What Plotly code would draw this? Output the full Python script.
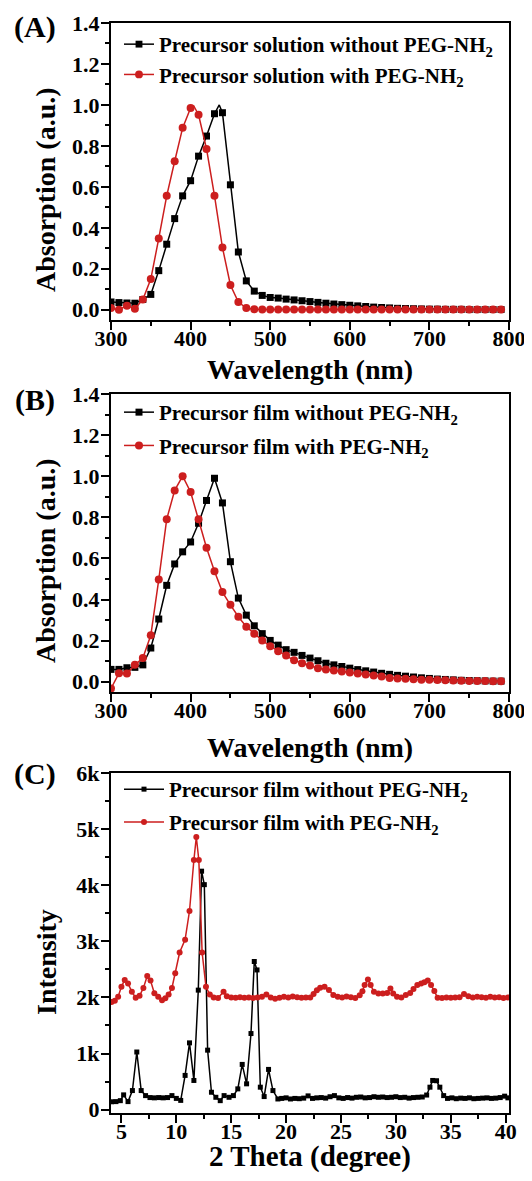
import plotly.graph_objects as go

# ---------------- Panel A: precursor solutions (UV-vis) ----------------
wl_a_black = [300, 310, 320, 330, 340, 350, 360, 370, 380, 390, 400, 410, 420, 430, 436, 440,
              450, 460, 470, 480, 490, 500, 510, 520, 530, 540, 550, 560, 570, 580, 590, 600,
              610, 620, 630, 640, 650, 660, 670, 680, 690, 700, 710, 720, 730, 740, 750, 760,
              770, 780, 790]
abs_a_black = [0.038, 0.035, 0.033, 0.032, 0.05, 0.075, 0.191, 0.32, 0.445, 0.556, 0.63, 0.75,
               0.848, 0.957, 1.0, 0.962, 0.61, 0.282, 0.141, 0.091, 0.07, 0.06, 0.057, 0.052,
               0.048, 0.044, 0.04, 0.036, 0.032, 0.028, 0.025, 0.022, 0.019, 0.016, 0.013, 0.011,
               0.009, 0.007, 0.006, 0.005, 0.004, 0.003, 0.003, 0.002, 0.002, 0.002, 0.001,
               0.001, 0.001, 0.001, 0.001]
wl_a_red = [300, 310, 320, 330, 340, 350, 360, 370, 380, 390, 400, 404, 410, 420, 430, 440,
            450, 460, 470, 480, 490, 500, 510, 520, 530, 540, 550, 560, 570, 580, 590, 600,
            610, 620, 630, 640, 650, 660, 670, 680, 690, 700, 710, 720, 730, 740, 750, 760,
            770, 780, 790]
abs_a_red = [0.008, 0.0, 0.02, 0.005, 0.05, 0.15, 0.348, 0.556, 0.725, 0.888, 0.985, 0.995,
             0.952, 0.785, 0.557, 0.304, 0.121, 0.038, 0.008, 0.002, 0.001, 0.001, 0.001,
             0.001, 0.001, 0.001, 0.001, 0.001, 0.001, 0.001, 0.001, 0.001, 0.001, 0.001,
             0.001, 0.001, 0.001, 0.001, 0.001, 0.001, 0.001, 0.001, 0.001, 0.001, 0.001,
             0.001, 0.001, 0.001, 0.001, 0.001, 0.001]

# ---------------- Panel B: precursor films (UV-vis) ----------------
wl_b = [300, 310, 320, 330, 340, 350, 360, 370, 380, 390, 400, 410, 420, 430, 440, 450, 460,
        470, 480, 490, 500, 510, 520, 530, 540, 550, 560, 570, 580, 590, 600, 610, 620, 630,
        640, 650, 660, 670, 680, 690, 700, 710, 720, 730, 740, 750, 760, 770, 780, 790]
abs_b_black = [0.06, 0.06, 0.068, 0.07, 0.082, 0.164, 0.305, 0.469, 0.573, 0.632, 0.68, 0.771,
               0.882, 0.99, 0.87, 0.584, 0.407, 0.324, 0.272, 0.234, 0.201, 0.178, 0.156,
               0.143, 0.128, 0.115, 0.102, 0.09, 0.082, 0.074, 0.066, 0.059, 0.053, 0.047,
               0.041, 0.036, 0.031, 0.027, 0.023, 0.019, 0.016, 0.013, 0.011, 0.009, 0.007,
               0.006, 0.005, 0.004, 0.003, 0.003]
abs_b_red = [-0.033, 0.041, 0.04, 0.082, 0.115, 0.226, 0.497, 0.791, 0.931, 1.0, 0.923, 0.791,
             0.652, 0.538, 0.436, 0.374, 0.316, 0.268, 0.234, 0.201, 0.173, 0.148, 0.127,
             0.104, 0.09, 0.079, 0.066, 0.06, 0.055, 0.05, 0.045, 0.04, 0.035, 0.03, 0.025,
             0.018, 0.016, 0.015, 0.012, 0.01, 0.01, 0.008, 0.007, 0.006, 0.005, 0.004, 0.003,
             0.003, 0.002, 0.002]

# ---------------- Panel C: XRD of precursor films ----------------
tt_black = [4.1, 4.5, 4.9, 5.2, 5.6, 6.0, 6.4, 6.8, 7.2, 7.6, 8.0, 8.4, 8.8, 9.2, 9.6, 10.0,
            10.4, 10.8, 11.2, 11.6, 12.0, 12.3, 12.55, 12.85, 13.2, 13.6, 14.0, 14.35, 14.8,
            15.2, 15.6, 16.0, 16.4, 16.8, 17.1, 17.35, 17.65, 18.0, 18.4, 18.8, 19.25, 19.6,
            20.0, 20.4, 20.8, 21.2, 21.6, 22.0, 22.4, 22.8, 23.2, 23.6, 24.0, 24.4, 24.8,
            25.2, 25.6, 26.0, 26.4, 26.8, 27.2, 27.6, 28.0, 28.4, 28.8, 29.2, 29.6, 30.0,
            30.4, 30.8, 31.2, 31.6, 32.0, 32.4, 32.8, 33.1, 33.35, 33.7, 34.0, 34.35, 34.7,
            35.1, 35.5, 35.9, 36.3, 36.7, 37.1, 37.5, 37.9, 38.3, 38.7, 39.1, 39.5, 39.9, 40.2]
int_black = [140, 143, 160, 263, 143, 340, 1027, 340, 250, 215, 210, 215, 210, 215, 250, 200,
             165, 610, 1190, 520, 2130, 4250, 4010, 1060, 310, 220, 160, 250, 220, 250, 370,
             806, 460, 1356, 2640, 2490, 400, 233, 717, 340, 190, 200, 210, 190, 200, 195, 205,
             245, 200, 210, 215, 205, 230, 250, 210, 200, 215, 205, 220, 225, 210, 215, 230,
             220, 225, 215, 220, 230, 215, 220, 205, 215, 220, 225, 260, 400, 520, 515, 400,
             250, 200, 210, 195, 205, 200, 210, 195, 200, 205, 210, 200, 205, 215, 240, 210]
tt_red = [4.1, 4.4, 4.7, 5.0, 5.3, 5.6, 5.95, 6.3, 6.65, 7.0, 7.35, 7.65, 8.0, 8.35, 8.7, 9.0,
          9.3, 9.6, 9.9, 10.3, 10.8, 11.2, 11.6, 11.82, 12.05, 12.35, 12.7, 13.05, 13.4, 13.8,
          14.3, 14.6, 15.0, 15.4, 15.8, 16.2, 16.6, 17.0, 17.4, 17.8, 18.2, 18.6, 19.0, 19.4,
          19.8, 20.2, 20.6, 21.0, 21.4, 21.8, 22.2, 22.5, 22.8, 23.1, 23.5, 23.9, 24.3, 24.7,
          25.1, 25.5, 25.9, 26.3, 26.7, 26.95, 27.15, 27.45, 27.7, 28.0, 28.4, 28.8, 29.2,
          29.5, 29.75, 30.1, 30.5, 30.9, 31.3, 31.6, 31.95, 32.3, 32.6, 32.9, 33.2, 33.5, 33.8,
          34.2, 34.6, 35.0, 35.4, 35.8, 36.2, 36.6, 37.0, 37.4, 37.8, 38.2, 38.6, 39.0, 39.4,
          39.8, 40.2]
int_red = [1920, 1940, 2013, 2192, 2310, 2250, 2100, 1995, 2030, 2170, 2380, 2300, 2073, 2013,
           1950, 1985, 2050, 2170, 2430, 2800, 3030, 3540, 4450, 4860, 4450, 2800, 2190, 2050,
           2000, 1990, 2100, 2020, 2000, 1995, 2005, 1995, 2000, 1990, 2000, 2010, 2050, 2000,
           1975, 1995, 2010, 2000, 2015, 2005, 1995, 2000, 2000, 2060, 2130, 2173, 2191, 2131,
           2042, 2010, 2000, 2015, 2005, 1990, 2040, 2110, 2220, 2320, 2220, 2100, 2072, 2070,
           2080, 2160, 2072, 2013, 2000, 2043, 2080, 2150, 2222, 2250, 2270, 2300, 2222, 2114,
           1995, 1990, 2000, 1995, 2000, 2005, 2060, 2020, 2000, 2010, 2005, 1995, 2010, 2000,
           2005, 1990, 2000]

names_a = ["Precursor solution without PEG-NH<sub>2</sub>",
           "Precursor solution with PEG-NH<sub>2</sub>"]
names_bc = ["Precursor film without PEG-NH<sub>2</sub>",
            "Precursor film with PEG-NH<sub>2</sub>"]

BLACK = "#000000"
RED = "#CC1E1E"
FONT = "Liberation Serif"
PAGE_MARGIN = 8          # default body margin of the html page
W, H = 532 - PAGE_MARGIN, 1181 - 2 * PAGE_MARGIN
PLOT_LEFT, PLOT_RIGHT = 111, 509


def fx(px):
    return (px - PAGE_MARGIN) / W


def fy(py):
    return 1 - (py - PAGE_MARGIN) / H


def msize(xs, s):
    return [s if float(x) % 10 == 0 else 0 for x in xs]


def mk(symbol, size, color):
    return dict(symbol=symbol, size=size, color=color, opacity=1, line=dict(width=0))


fig = go.Figure()

# Panel A
fig.add_trace(go.Scatter(x=wl_a_black, y=abs_a_black, mode="lines+markers", name=names_a[0],
                         line=dict(color=BLACK, width=1.5),
                         marker=mk("square", msize(wl_a_black, 7), BLACK),
                         xaxis="x", yaxis="y", legend="legend", legendgroup="a1"))
fig.add_trace(go.Scatter(x=wl_a_red, y=abs_a_red, mode="lines+markers", name=names_a[1],
                         line=dict(color=RED, width=1.5),
                         marker=mk("circle", msize(wl_a_red, 8), RED),
                         xaxis="x", yaxis="y", legend="legend", legendgroup="a2"))
# Panel B
fig.add_trace(go.Scatter(x=wl_b, y=abs_b_black, mode="lines+markers", name=names_bc[0],
                         line=dict(color=BLACK, width=1.5),
                         marker=mk("square", 7, BLACK),
                         xaxis="x2", yaxis="y2", legend="legend2", legendgroup="b1"))
fig.add_trace(go.Scatter(x=wl_b, y=abs_b_red, mode="lines+markers", name=names_bc[1],
                         line=dict(color=RED, width=1.5),
                         marker=mk("circle", 8, RED),
                         xaxis="x2", yaxis="y2", legend="legend2", legendgroup="b2"))
# Panel C
fig.add_trace(go.Scatter(x=tt_black, y=int_black, mode="lines+markers", name=names_bc[0],
                         line=dict(color=BLACK, width=1.5),
                         marker=mk("square", 5, BLACK),
                         xaxis="x3", yaxis="y3", legend="legend3", legendgroup="c1"))
fig.add_trace(go.Scatter(x=tt_red, y=int_red, mode="lines+markers", name=names_bc[1],
                         line=dict(color=RED, width=1.5),
                         marker=mk("circle", 6, RED),
                         xaxis="x3", yaxis="y3", legend="legend3", legendgroup="c2"))

tickfont = dict(family=FONT, size=22, color="black", weight="bold")


def xax(domain_anchor, rng, dtick, minor_dtick, tick0=None):
    d = dict(domain=[fx(PLOT_LEFT), fx(PLOT_RIGHT)], anchor=domain_anchor, range=rng, dtick=dtick,
             ticks="outside", ticklen=8, tickwidth=2, tickcolor="black",
             minor=dict(ticks="outside", ticklen=4, tickwidth=2, tickcolor="black", dtick=minor_dtick),
             showline=True, linewidth=2, linecolor="black", mirror=True,
             showgrid=False, zeroline=False, tickfont=tickfont, automargin=False,
             ticklabelstandoff=-10)
    if tick0 is not None:
        d["tick0"] = tick0
        d["minor"]["tick0"] = tick0
    return d


def yax(domain, anchor, rng, dtick, minor_dtick, fmt):
    return dict(domain=domain, anchor=anchor, range=rng, dtick=dtick, tick0=0, tickformat=fmt,
                ticks="outside", ticklen=8, tickwidth=2, tickcolor="black",
                minor=dict(ticks="outside", ticklen=4, tickwidth=2, tickcolor="black",
                           dtick=minor_dtick, tick0=0),
                showline=True, linewidth=2, linecolor="black", mirror=True,
                showgrid=False, zeroline=False, tickfont=tickfont, automargin=False,
                ticklabelstandoff=-3)


legfont = dict(family=FONT, size=21, color="black", weight="bold")


def leg(y_top, gap, iw=30):
    return dict(x=fx(119), y=fy(y_top), xanchor="left", yanchor="top", font=legfont,
                bgcolor="rgba(0,0,0,0)", borderwidth=0, tracegroupgap=gap,
                traceorder="grouped", itemwidth=iw)


fig.update_layout(
    width=W, height=H, autosize=False,
    margin=dict(l=0, r=0, t=0, b=0, autoexpand=False),
    paper_bgcolor="white", plot_bgcolor="white",
    font=dict(family=FONT, color="black"),
    xaxis=xax("y", [300, 800], 100, 50),
    yaxis=yax([fy(320), fy(23)], "x", [-0.05, 1.4], 0.2, 0.1, ".1f"),
    xaxis2=xax("y2", [300, 800], 100, 50),
    yaxis2=yax([fy(692), fy(394)], "x2", [-0.05, 1.4], 0.2, 0.1, ".1f"),
    xaxis3=xax("y3", [4.05, 40.3], 5, 2.5, tick0=5),
    yaxis3=yax([fy(1113), fy(773)], "x3", [-60, 6000], 1000, 500, "~s"),
    legend=leg(24, 0),
    legend2=leg(392, 3),
    legend3=leg(769, 2.5, 40),
    showlegend=True,
)

titlefont = dict(family=FONT, size=28, color="black", weight="bold")
labelfont = dict(family=FONT, size=30, color="black", weight="bold")
mid_x = (PLOT_LEFT + PLOT_RIGHT) / 2
annos = [
    ("(A)", 35, 27, 0, labelfont),
    ("(B)", 35, 400, 0, labelfont),
    ("(C)", 35, 774, 0, labelfont),
    ("Absorption (a.u.)", 45, 190, -90, titlefont),
    ("Absorption (a.u.)", 45, 561, -90, titlefont),
    ("Intensity", 46, 962, -90, titlefont),
    ("Wavelength (nm)", mid_x, 369, 0, titlefont),
    ("Wavelength (nm)", mid_x, 747, 0, titlefont),
    ("2 Theta (degree)", mid_x, 1156, 0, dict(titlefont, size=29)),
]
for text, x, y, ang, f in annos:
    fig.add_annotation(text=text, x=fx(x), y=fy(y), xref="paper", yref="paper",
                       xanchor="center", yanchor="middle", showarrow=False,
                       textangle=ang, font=f)

fig.write_html("out.html")
